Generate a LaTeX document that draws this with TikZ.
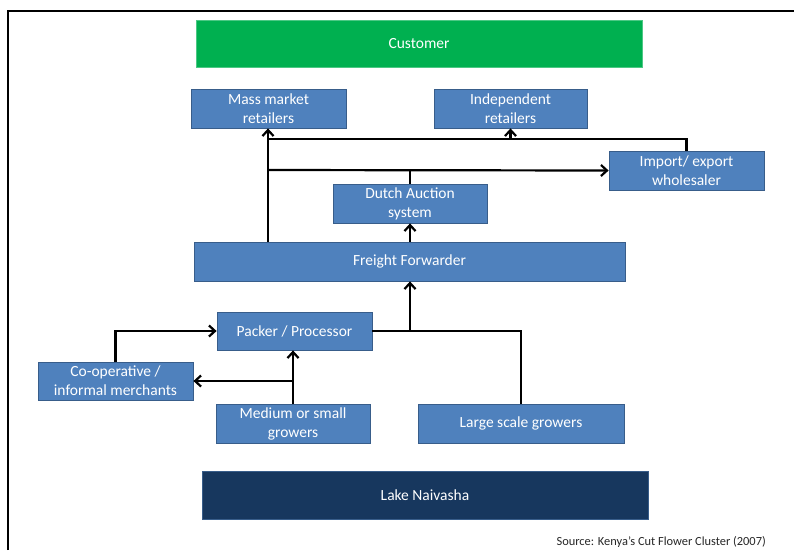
\documentclass[tikz,border=0pt]{standalone}
\usepackage{fontspec}
\setmainfont{Carlito}
\usetikzlibrary{arrows.meta}
\definecolor{boxblue}{HTML}{4F81BD}
\definecolor{boxedge}{HTML}{385D8A}
\definecolor{custgreen}{HTML}{00B050}
\definecolor{lakeblue}{HTML}{17375E}
\begin{document}
\begin{tikzpicture}[x=1pt, y=-1pt,
		flowbox/.style={draw=boxedge, line width=0.8pt, fill=boxblue, text=white, align=center,
			inner sep=0pt, font=\fontsize{15.5}{19}\selectfont},
		link/.style={line width=2.2pt, black},
		arr/.style={link, -{Straight Barb[length=6pt, width=11pt]}}]
			\useasboundingbox (0, 0) rectangle (794, 550);
			%%draw the frame
			\draw[line width=2pt](8, 550) -- (8, 11) -- (794, 11);

			%%draw the boxes
			\node[flowbox, fill=custgreen, draw=custgreen!70!white, minimum width=446, minimum height=47] (cust) at (419, 43.5){Customer};
			\node[flowbox, minimum width=155, minimum height=39] (mass) at (268.5, 108.5){Mass market\\retailers};
			\node[flowbox, minimum width=153, minimum height=39] (indep) at (510.5, 108.5){Independent\\retailers};
			\node[flowbox, minimum width=155, minimum height=39] (imp) at (686.5, 170.5){Import/ export\\wholesaler};
			\node[flowbox, minimum width=154, minimum height=39] (dutch) at (410, 203.5){Dutch Auction\\system};
			\node[flowbox, minimum width=431, minimum height=39] (ff) at (409.5, 261.5){Freight Forwarder};
			\node[flowbox, minimum width=155, minimum height=38] (pack) at (294.5, 331){Packer / Processor};
			\node[flowbox, minimum width=155, minimum height=38] (coop) at (115.5, 381){Co-operative /\\informal merchants};
			\node[flowbox, minimum width=154, minimum height=39] (med) at (293, 423.5){Medium or small\\growers};
			\node[flowbox, minimum width=206, minimum height=39] (large) at (521, 423.5){Large scale growers};
			\node[flowbox, fill=lakeblue, minimum width=446, minimum height=48] (lake) at (425, 495){Lake Naivasha};
			\node[anchor=south east, inner sep=0pt, font=\fontsize{12.4}{14}\selectfont, text=black!85] (src) at (766, 548){Source: Kenya’s Cut Flower Cluster (2007)};

			%%draw the links
			\coordinate (top) at (268, 139);
			\coordinate (mid) at (268, 170);
			\coordinate (join) at (410, 331);
			\coordinate (split) at (293, 381);

			%%to the retailers
			\draw[arr](ff.north -| top) -- (mass.south -| top);
			\draw[link](imp.north) |- (top);
			\draw[arr](indep.south |- top) -- (indep.south);
			\draw[arr](mid) -- (imp.west);
			\draw[link](dutch.north) -- (dutch.north |- mid);
			\draw[arr](ff.north -| join) -- (dutch.south -| join);

			%%from the growers
			\draw[link](large.north) |- (join);
			\draw[link](pack.east) -- (join);
			\draw[arr](join) -- (ff.south -| join);
			\draw[arr](med.north) -- (med.north |- pack.south);
			\draw[arr](split) -- (coop.east);
			\draw[arr](coop.north) |- (pack.west);
		\end{tikzpicture}
\end{document}
